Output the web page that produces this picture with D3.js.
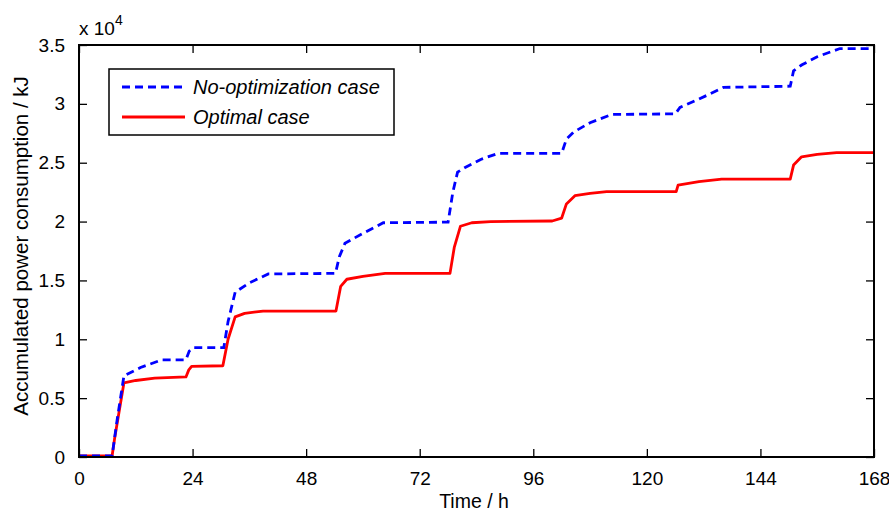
<!DOCTYPE html>
<html>
<head>
<meta charset="utf-8">
<script src="https://cdn.jsdelivr.net/npm/d3@7"></script>
<style>
  html, body { margin: 0; padding: 0; background: #fff; }
  svg { display: block; font-family: Arial, "Liberation Sans", Helvetica, sans-serif; }
</style>
</head>
<body>
<svg id="chart" width="889" height="514"></svg>
<script>
// ---- data ----
const xTicks = [0, 24, 48, 72, 96, 120, 144, 168];
const yTicks = [0, 5000, 10000, 15000, 20000, 25000, 30000, 35000];
const yTickLabels = ["0", "0.5", "1", "1.5", "2", "2.5", "3", "3.5"];
const seriesNames = ["No-optimization case", "Optimal case"];

const noOptTime = [0, 7, 8, 9.5, 13, 17.5, 22.6, 23.3, 24.2, 30.6, 31.5, 33, 36, 40, 54.2, 55, 56.2, 60, 64.3, 78, 79, 80, 81.6, 85, 88.6, 102, 103, 104.5, 108, 112.6, 126, 127, 131, 136.2, 150.3, 151, 152.7, 156, 160.8, 168];
const noOptValue = [100, 100, 3000, 6900, 7600, 8250, 8250, 9000, 9300, 9300, 11500, 14000, 14800, 15550, 15600, 17000, 18150, 19000, 19900, 19950, 22500, 24200, 24600, 25300, 25800, 25800, 27000, 27600, 28400, 29100, 29150, 29700, 30400, 31400, 31500, 32800, 33300, 34000, 34700, 34700];

const optTime = [0, 7, 7.5, 9.5, 12, 16, 22.6, 23.2, 23.8, 30.4, 31.5, 33, 35, 38.9, 54.3, 55.3, 56.6, 60, 64.7, 78.4, 79.3, 80.6, 83, 87, 100, 102, 103, 104.8, 108, 111.5, 126.2, 126.6, 131, 135.8, 150.3, 151, 152.7, 156, 160.1, 168];
const optValue = [100, 100, 1500, 6300, 6500, 6700, 6800, 7400, 7700, 7750, 10000, 11900, 12200, 12400, 12400, 14500, 15100, 15350, 15600, 15600, 17800, 19600, 19900, 20000, 20050, 20300, 21500, 22200, 22400, 22550, 22550, 23100, 23400, 23600, 23600, 24800, 25500, 25700, 25850, 25850];

// ---- layout ----
const svg = d3.select("#chart");
const margin = { left: 79, top: 45, right: 15, bottom: 57 };
const W = 889, H = 514;
const x = d3.scaleLinear().domain([0, 168]).range([margin.left, W - margin.right]);
const y = d3.scaleLinear().domain([0, 35000]).range([H - margin.bottom, margin.top]);

const tickLen = 8;
const fs = 19;

// lines
const line = d3.line().x(d => x(d[0])).y(d => y(d[1]));
const noOpt = noOptTime.map((t, i) => [t, noOptValue[i]]);
const opt = optTime.map((t, i) => [t, optValue[i]]);

const clip = svg.append("clipPath").attr("id", "plotclip").append("rect")
  .attr("x", margin.left).attr("y", margin.top - 2)
  .attr("width", W - margin.right - margin.left).attr("height", H - margin.bottom - margin.top + 2);

const plot = svg.append("g").attr("clip-path", "url(#plotclip)");
plot.append("path").datum(opt)
  .attr("d", line).attr("fill", "none").attr("stroke", "#ff0000")
  .attr("stroke-width", 2.8).attr("stroke-linejoin", "round");
plot.append("path").datum(noOpt)
  .attr("d", line).attr("fill", "none").attr("stroke", "#0000ff")
  .attr("stroke-width", 2.8).attr("stroke-dasharray", "8,5");

// axes (MATLAB-style inward ticks on all sides)
const bottomAxis = d3.axisBottom(x).tickValues(xTicks).tickSizeInner(-tickLen).tickSizeOuter(0).tickPadding(15);
const topAxis = d3.axisTop(x).tickValues(xTicks).tickSizeInner(-tickLen).tickSizeOuter(0).tickFormat("");
const leftAxis = d3.axisLeft(y).tickValues(yTicks).tickSizeInner(-tickLen).tickSizeOuter(0).tickPadding(14)
  .tickFormat((d, i) => yTickLabels[i]);
const rightAxis = d3.axisRight(y).tickValues(yTicks).tickSizeInner(-tickLen).tickSizeOuter(0).tickFormat("");

function style(g) {
  g.select(".domain").remove();
  g.selectAll(".tick line").attr("stroke", "#000").attr("stroke-width", 1.3);
  g.selectAll(".tick text").attr("fill", "#000").style("font-size", fs + "px").style("font-family", "Arial, 'Liberation Sans', sans-serif");
}
svg.append("g").attr("transform", `translate(0,${H - margin.bottom})`).call(bottomAxis).call(style);
svg.append("g").attr("transform", `translate(0,${margin.top})`).call(topAxis).call(style);
svg.append("g").attr("transform", `translate(${margin.left},0)`).call(leftAxis).call(style);
svg.append("g").attr("transform", `translate(${W - margin.right},0)`).call(rightAxis).call(style);

// hide ticks at ends on the box edges (box drawn over)
svg.append("rect")
  .attr("x", margin.left).attr("y", margin.top)
  .attr("width", W - margin.right - margin.left).attr("height", H - margin.bottom - margin.top)
  .attr("fill", "none").attr("stroke", "#000").attr("stroke-width", 2);

// exponent label
const expo = svg.append("text").attr("x", 79).attr("y", 35).attr("fill", "#000").style("font-size", fs + "px");
expo.append("tspan").text("x 10");
expo.append("tspan").attr("dy", -10).style("font-size", "14px").text("4");

// axis labels
svg.append("text").attr("x", 474).attr("y", 508).attr("text-anchor", "middle")
  .style("font-size", "19.5px").attr("fill", "#000").text("Time / h");
svg.append("text").attr("transform", "translate(28,246) rotate(-90)").attr("text-anchor", "middle")
  .style("font-size", "20.5px").attr("fill", "#000").text("Accumulated power consumption / kJ");

// legend
const lg = svg.append("g");
lg.append("rect").attr("x", 109).attr("y", 69).attr("width", 285).attr("height", 66)
  .attr("fill", "#fff").attr("stroke", "#000").attr("stroke-width", 1.5);
const legendColors = ["#0000ff", "#ff0000"];
const legendDash = ["8,5", null];
const legendY = [87, 117];
seriesNames.forEach((name, i) => {
  lg.append("line").attr("x1", 122).attr("x2", 185).attr("y1", legendY[i]).attr("y2", legendY[i])
    .attr("stroke", legendColors[i]).attr("stroke-width", 2.8)
    .attr("stroke-dasharray", legendDash[i]);
  lg.append("text").attr("x", 193).attr("y", legendY[i] + 7)
    .style("font-size", "20px").style("font-style", "italic").attr("fill", "#000").text(name);
});
</script>
</body>
</html>
